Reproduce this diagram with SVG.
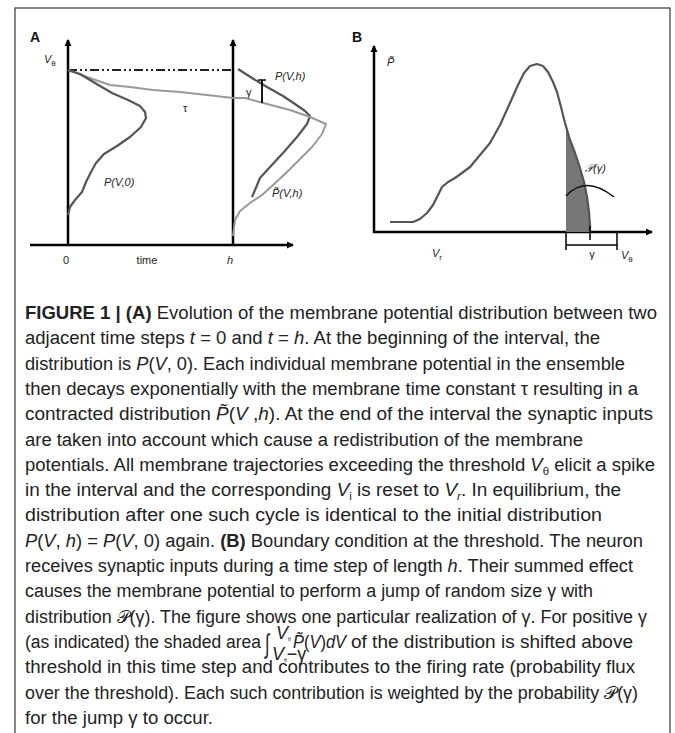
<svg xmlns="http://www.w3.org/2000/svg" width="675" height="733" viewBox="0 0 675 733">
<style>
.cap{font-family:"Liberation Sans Narrow","Liberation Sans",Arial,sans-serif;font-size:18px;fill:#222}
.b{font-weight:bold}
.i{font-style:italic}
.lbl{font-family:"Liberation Sans",Arial,sans-serif;font-size:11px;fill:#222}
.pl{font-family:"Liberation Sans",Arial,sans-serif;font-size:14px;font-weight:bold;fill:#111}
.ax{stroke:#000;stroke-width:2.5;fill:none}
.dk{stroke:#555;stroke-width:2.2;fill:none;stroke-linejoin:round}
.lt{stroke:#999;stroke-width:2;fill:none;stroke-linejoin:round}
</style>
<defs>
<marker id="ah" markerWidth="8" markerHeight="8" refX="6" refY="4" orient="auto" markerUnits="userSpaceOnUse">
<path d="M0,0.5 L7,4 L0,7.5 Z" fill="#000"/>
</marker>
</defs>
<rect x="0" y="0" width="675" height="733" fill="#fff"/>
<rect x="15" y="8" width="655" height="740" fill="none" stroke="#444" stroke-width="1.3"/>

<g id="panelA">
<text class="pl" x="30" y="42">A</text>
<g id="axesA">
<line class="ax" x1="68" y1="246" x2="68" y2="40" marker-end="url(#ah)"/>
<line class="ax" x1="233" y1="246" x2="233" y2="40" marker-end="url(#ah)"/>
<line class="ax" x1="30" y1="245" x2="293" y2="245" marker-end="url(#ah)"/>
</g>
<line x1="68" y1="70" x2="233" y2="70" stroke="#222" stroke-width="2.2" stroke-dasharray="9 3 2 3 2 3"/>
<text class="lbl i" x="44" y="63">V<tspan font-size="8" dy="3" font-style="normal">θ</tspan></text>
<path id="decay" class="lt" d="M68,70 L87,77 L110,85 L130,87 L153,90 L180,92 L207,95 L233,98"/>
<text class="lbl" x="183" y="112" font-size="9">τ</text>
<path id="P0" class="dk" d="M68,70 L80,74 L95,83 L112,93 L128,100 L140,106 L145,112 L146,118 L141,127 L130,137 L117,146 L104,154 L96,163 L91,172 L86,182 L82,192 L75,200 L70,207 L68,215"/>
<text class="lbl i" x="104" y="186">P(V,0)</text>
<path id="Ph" class="dk" d="M238,69 L252,78 L267,87 L283,96 L295,104 L305,111 L310,116 L307,124 L297,137 L283,153 L270,167 L260,178 L255,190 L252,197"/>
<path id="Pth" class="lt" d="M233,98 L245,98 L267,104 L290,110 L310,117 L326,124 L322,134 L312,147 L300,159 L287,172 L272,186 L262,195 L250,203 L240,211 L235,220 L233,236"/>
<line x1="262" y1="80" x2="262" y2="103" stroke="#000" stroke-width="1.8"/>
<line x1="258" y1="80" x2="266" y2="80" stroke="#000" stroke-width="1.5"/>
<text class="lbl" x="246" y="96" font-size="10">γ</text>
<text class="lbl i" x="275" y="80">P(V,h)</text>
<text class="lbl i" x="272" y="197">P̃(V,h)</text>
<text class="lbl" x="66" y="264" text-anchor="middle">0</text>
<text class="lbl" x="147" y="264" text-anchor="middle">time</text>
<text class="lbl i" x="230" y="264" text-anchor="middle">h</text>
</g>

<g id="panelB">
<text class="pl" x="352" y="42">B</text>
<line class="ax" x1="374" y1="233" x2="374" y2="46" marker-end="url(#ah)"/>
<line class="ax" x1="373" y1="232" x2="652" y2="232" marker-end="url(#ah)"/>
<text class="lbl i" x="387" y="66" font-size="12">P̃</text>
<path id="shade" d="M566,232 L566,126 L570,140 L575,153 L580,168 L584,182 L587,197 L589,212 L590,225 L590,232 Z" fill="#777"/>
<path id="curveB" class="dk" d="M390,222 L413,222 L420,219 L427,213 L433,205 L438,195 L442,187 L448,182 L455,178 L462,173 L470,167 L480,155 L490,143 L500,125 L510,103 L518,85 L524,73 L530,66 L537,64 L543,66 L548,72 L553,82 L557,92 L561,107 L565,123 L570,140 L575,153 L580,168 L584,182 L587,197 L589,212 L590,225 L590,232"/>
<path id="Pgamma" d="M566,196 C575,186 590,178 614,197" fill="none" stroke="#111" stroke-width="1.5"/>
<text class="lbl i" x="585" y="172" font-size="10">𝒫(γ)</text>
<g id="bracket" stroke="#000" stroke-width="1.5">
<line x1="566" y1="232" x2="566" y2="250"/>
<line x1="617" y1="232" x2="617" y2="250"/>
<line x1="566" y1="245" x2="617" y2="245"/>
<line x1="590" y1="226" x2="590" y2="240"/>
</g>
<text class="lbl" x="592" y="258" font-size="10" text-anchor="middle">γ</text>
<text class="lbl i" x="621" y="259" font-size="12">V<tspan font-size="8" dy="3" font-style="normal">θ</tspan></text>
<text class="lbl i" x="432" y="257" font-size="12">V<tspan font-size="8" dy="3" font-style="normal">r</tspan></text>
</g>

<g id="caption">
<text class="cap" x="25" y="319" textLength="632" lengthAdjust="spacingAndGlyphs"><tspan class="b">FIGURE 1 | (A)</tspan> Evolution of the membrane potential distribution between two</text>
<text class="cap" x="25" y="344.3" textLength="575" lengthAdjust="spacingAndGlyphs">adjacent time steps <tspan class="i">t</tspan> = 0 and <tspan class="i">t</tspan> = <tspan class="i">h</tspan>. At the beginning of the interval, the</text>
<text class="cap" x="25" y="369.6" textLength="600" lengthAdjust="spacingAndGlyphs">distribution is <tspan class="i">P</tspan>(<tspan class="i">V</tspan>, 0). Each individual membrane potential in the ensemble</text>
<text class="cap" x="25" y="394.9" textLength="613" lengthAdjust="spacingAndGlyphs">then decays exponentially with the membrane time constant τ resulting in a</text>
<text class="cap" x="25" y="420.2" textLength="628" lengthAdjust="spacingAndGlyphs">contracted distribution <tspan class="i">P̃</tspan>(<tspan class="i">V</tspan> ,<tspan class="i">h</tspan>). At the end of the interval the synaptic inputs</text>
<text class="cap" x="25" y="445.5" textLength="558" lengthAdjust="spacingAndGlyphs">are taken into account which cause a redistribution of the membrane</text>
<text class="cap" x="25" y="470.8" textLength="630" lengthAdjust="spacingAndGlyphs">potentials. All membrane trajectories exceeding the threshold <tspan class="i">V</tspan><tspan font-size="11" dy="4">θ</tspan><tspan dy="-4"> elicit a spike</tspan></text>
<text class="cap" x="25" y="496.1" textLength="596" lengthAdjust="spacingAndGlyphs">in the interval and the corresponding <tspan class="i">V</tspan><tspan font-size="11" dy="4">i</tspan><tspan dy="-4"> is reset to </tspan><tspan class="i">V</tspan><tspan class="i" font-size="11" dy="4">r</tspan><tspan dy="-4">. In equilibrium, the</tspan></text>
<text class="cap" x="25" y="521.4" textLength="577" lengthAdjust="spacingAndGlyphs">distribution after one such cycle is identical to the initial distribution</text>
<text class="cap" x="25" y="546.7" textLength="618" lengthAdjust="spacingAndGlyphs"><tspan class="i">P</tspan>(<tspan class="i">V</tspan>, <tspan class="i">h</tspan>) = <tspan class="i">P</tspan>(<tspan class="i">V</tspan>, 0) again. <tspan class="b">(B)</tspan> Boundary condition at the threshold. The neuron</text>
<text class="cap" x="25" y="572" textLength="608" lengthAdjust="spacingAndGlyphs">receives synaptic inputs during a time step of length <tspan class="i">h</tspan>. Their summed effect</text>
<text class="cap" x="25" y="597.3" textLength="568" lengthAdjust="spacingAndGlyphs">causes the membrane potential to perform a jump of random size γ with</text>
<text class="cap" x="25" y="622.6" textLength="622" lengthAdjust="spacingAndGlyphs">distribution 𝒫(γ). The figure shows one particular realization of γ. For positive γ</text>
<text class="cap" x="25" y="647.9" textLength="236" lengthAdjust="spacingAndGlyphs">(as indicated) the shaded area</text>
<text class="cap" transform="translate(265,653) scale(0.9,1.5)" font-size="20">∫</text>
<text class="cap i" x="276" y="639" font-size="7">V<tspan font-size="5" dy="1.5" font-style="normal">θ</tspan></text>
<text class="cap i" x="272" y="660" font-size="7">V<tspan font-size="5" dy="1.5" font-style="normal">θ</tspan><tspan dy="-1.5" font-style="normal">−γ</tspan></text>
<text class="cap" x="293" y="647.9" textLength="53" lengthAdjust="spacingAndGlyphs"><tspan class="i">P̃</tspan>(<tspan class="i">V</tspan>)<tspan class="i">dV</tspan></text>
<text class="cap" x="351" y="647.9" textLength="282" lengthAdjust="spacingAndGlyphs">of the distribution is shifted above</text>
<text class="cap" x="25" y="673.2" textLength="610" lengthAdjust="spacingAndGlyphs">threshold in this time step and contributes to the firing rate (probability flux</text>
<text class="cap" x="25" y="698.5" textLength="613" lengthAdjust="spacingAndGlyphs">over the threshold). Each such contribution is weighted by the probability 𝒫(γ)</text>
<text class="cap" x="25" y="723.8" textLength="188" lengthAdjust="spacingAndGlyphs">for the jump γ to occur.</text>
</g>
</svg>
